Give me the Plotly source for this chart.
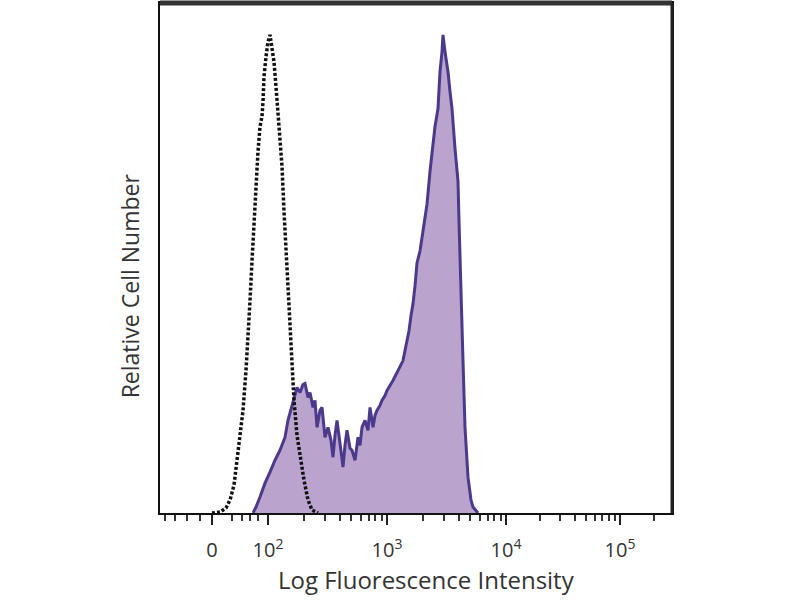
import numpy as np
import plotly.graph_objects as go

# Histogram data: x = display channel (biexponential scale), y = relative count
isotype_ch = [52, 60, 66, 70, 74, 77, 80, 83, 86, 88, 90, 92, 94, 96, 98, 100, 102, 103, 104, 106,
              108, 110, 112, 114, 116, 118, 120, 122, 124, 126, 128, 130, 132, 134, 137, 140, 144,
              148, 152, 158]
isotype_cnt = [0, 1, 5, 13, 28, 53, 83, 103, 143, 173, 213, 253, 293, 333, 363, 388, 398, 413, 438, 458,
               473, 480, 468, 453, 428, 403, 378, 348, 303, 263, 223, 183, 143, 113, 78, 58, 33,
               13, 3, 0]

stained_ch = [93, 96, 100, 105, 110, 115, 120, 125, 128, 131, 133, 137, 140, 143, 145, 148, 150, 153,
              155, 157, 160, 162, 165, 168, 171, 173, 175, 177, 180, 183, 185, 187, 190, 192, 195, 198,
              200, 202, 205, 208, 210, 213, 215, 217, 220, 222, 225, 227, 230, 233, 238, 243, 246, 249,
              251, 253, 255, 257, 260, 263, 267, 270, 273, 275, 278, 280, 282, 283, 285, 288, 290, 292,
              295, 298, 299, 300, 301, 303, 305, 308, 311, 313, 318]
stained_cnt = [0, 6, 16, 30, 41, 53, 63, 76, 93, 105, 113, 126, 121, 129, 130, 116, 121, 106,
               113, 86, 103, 106, 76, 86, 73, 56, 78, 93, 70, 46, 68, 83, 65, 63, 53, 76,
               68, 86, 93, 83, 106, 86, 98, 103, 108, 113, 118, 123, 128, 133, 143, 153, 168, 183,
               198, 210, 228, 251, 263, 283, 310, 343, 373, 388, 406, 443, 463, 480, 463, 443, 423, 406,
               366, 333, 293, 253, 210, 153, 86, 36, 13, 6, 0]

major_tick_ch = [52, 108, 227, 346, 460]
major_tick_text = ["0", "10<sup>2</sup>", "10<sup>3</sup>", "10<sup>4</sup>", "10<sup>5</sup>"]
decade_width = [119, 119, 114, 114]

minor = [5, 15, 27, 40, 72, 82, 90, 98]
for start, w in zip(major_tick_ch[1:], decade_width):
    for k in range(2, 10):
        v = start + w * np.log10(k)
        if v < 510:
            minor.append(float(v))

fig = go.Figure()
fig.add_trace(go.Scatter(
    x=stained_ch, y=stained_cnt, mode="lines", fill="tozeroy",
    fillcolor="#BAA3CD", line=dict(color="#4B3A8C", width=3), showlegend=False,
))
fig.add_trace(go.Scatter(
    x=isotype_ch, y=isotype_cnt, mode="lines",
    line=dict(color="#111111", width=3.5, dash="3px,2px"), showlegend=False,
))

font_family = "Open Sans, DejaVu Sans, sans-serif"
fig.update_layout(
    width=800, height=600,
    margin=dict(l=160, r=128, t=1, b=87),
    paper_bgcolor="white", plot_bgcolor="white",
    font=dict(family=font_family, color="#333333"),
    xaxis=dict(
        range=[0, 512], showgrid=False, zeroline=False,
        showline=True, linecolor="#111111", linewidth=2, mirror=True,
        tickmode="array", tickvals=major_tick_ch, ticktext=major_tick_text,
        ticks="outside", ticklen=10, tickwidth=2, tickcolor="#222222",
        tickfont=dict(size=20, color="#333333"), ticklabelstandoff=8,
        minor=dict(tickvals=minor, ticks="outside", ticklen=6, tickwidth=1.5, tickcolor="#333333"),
    ),
    yaxis=dict(
        range=[0, 512], showgrid=False, zeroline=False, showticklabels=False,
        showline=True, linecolor="#111111", linewidth=2, mirror=True, ticks="",
    ),
    annotations=[
        dict(text="Log Fluorescence Intensity", xref="paper", yref="paper",
             x=0.52, y=-0.131, xanchor="center", yanchor="middle", showarrow=False,
             font=dict(size=24, color="#333333")),
        dict(text="Relative Cell Number", xref="paper", yref="paper",
             x=-0.059, y=0.446, xanchor="center", yanchor="middle", showarrow=False,
             textangle=-90, font=dict(size=23, color="#333333")),
    ],
    shapes=[
        dict(type="line", xref="paper", yref="paper", x0=0, x1=1, y0=1, y1=1,
             line=dict(color="#333333", width=5)),
        dict(type="line", xref="paper", yref="paper", x0=1, x1=1, y0=0, y1=1,
             line=dict(color="#222222", width=3)),
    ],
)

fig.write_html("out.html", config={"displayModeBar": False},
               post_script="document.body.style.margin='0';")
